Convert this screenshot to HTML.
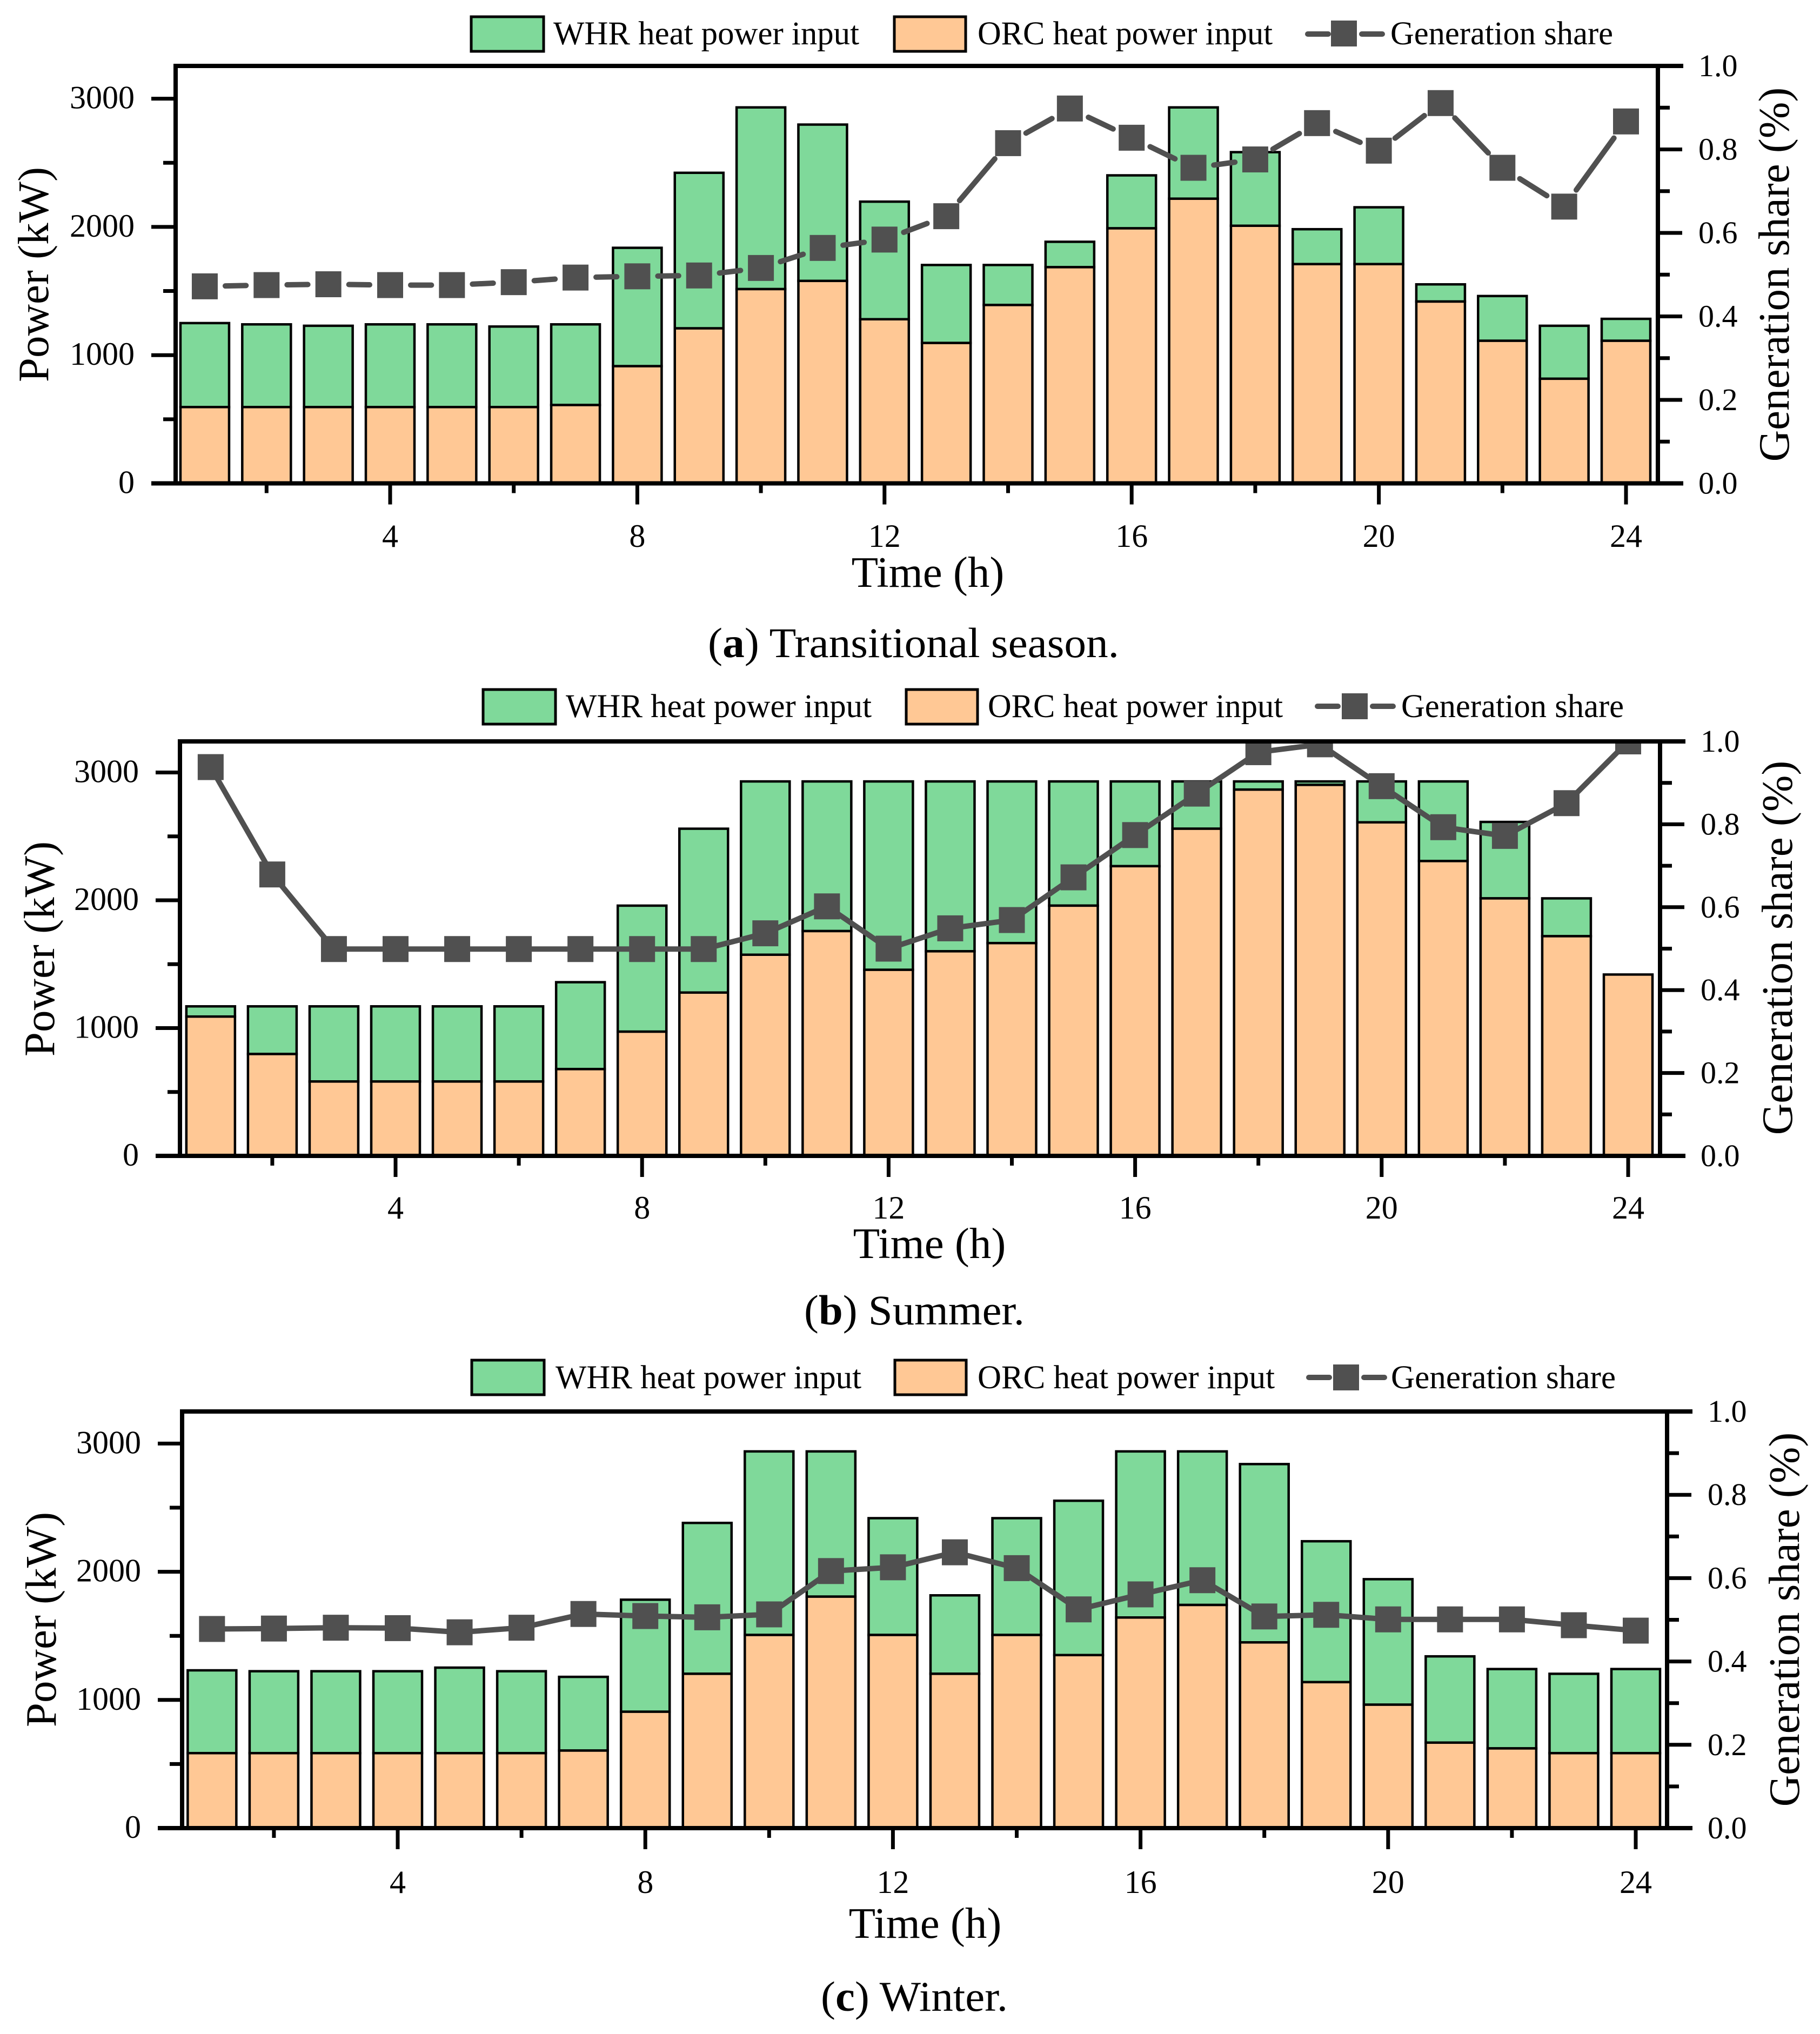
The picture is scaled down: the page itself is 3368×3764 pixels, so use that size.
<!DOCTYPE html>
<html>
<head>
<meta charset="utf-8">
<title>Heat power input and generation share</title>
<style>
html,body{margin:0;padding:0;background:#fff;}
svg{display:block;}
text{font-family:"Liberation Serif",serif;fill:#000;}
.leg{font-size:61px;}
.title{font-size:81px;}
.cap{font-size:78px;}
</style>
</head>
<body>
<svg id="figure" xmlns="http://www.w3.org/2000/svg" width="3368" height="3764" viewBox="0 0 3368 3764">
<rect width="3368" height="3764" fill="#fff"/>
<defs>
<clipPath id="clip-a"><rect x="325" y="122" width="2743" height="773"/></clipPath>
<clipPath id="clip-b"><rect x="333" y="1372" width="2739" height="767"/></clipPath>
<clipPath id="clip-c"><rect x="337" y="2612" width="2748" height="771"/></clipPath>
</defs>
<g id="panel-a"></g>
<g id="panel-b"></g>
<g id="panel-c"></g>

<g>
<rect x="872" y="31" width="134" height="64" fill="#7FD99A" stroke="#000" stroke-width="5"/>
<text class="leg" x="1024" y="82" textLength="566" lengthAdjust="spacingAndGlyphs">WHR heat power input</text>
<rect x="1655" y="31" width="132" height="64" fill="#FFC895" stroke="#000" stroke-width="5"/>
<text class="leg" x="1809" y="82" textLength="546" lengthAdjust="spacingAndGlyphs">ORC heat power input</text>
<line x1="2420" y1="63" x2="2458" y2="63" stroke="#505050" stroke-width="10" stroke-linecap="round"/>
<line x1="2520" y1="63" x2="2558" y2="63" stroke="#505050" stroke-width="10" stroke-linecap="round"/>
<rect x="2463" y="38" width="48" height="48" fill="#505050"/>
<text class="leg" x="2573" y="82" textLength="412" lengthAdjust="spacingAndGlyphs">Generation share</text>
</g>
<text class="title" x="1717" y="1086" text-anchor="middle">Time (h)</text>
<text class="title" transform="translate(89 508) rotate(-90)" text-anchor="middle">Power (kW)</text>
<text class="title" transform="translate(3310 508) rotate(-90)" text-anchor="middle">Generation share (%)</text>
<text class="cap" x="1310" y="1216" textLength="761" lengthAdjust="spacingAndGlyphs">(<tspan font-weight="bold">a</tspan>) Transitional season.</text>

<g>
<rect x="894" y="1276" width="134" height="64" fill="#7FD99A" stroke="#000" stroke-width="5"/>
<text class="leg" x="1047" y="1327" textLength="566" lengthAdjust="spacingAndGlyphs">WHR heat power input</text>
<rect x="1677" y="1276" width="132" height="64" fill="#FFC895" stroke="#000" stroke-width="5"/>
<text class="leg" x="1828" y="1327" textLength="546" lengthAdjust="spacingAndGlyphs">ORC heat power input</text>
<line x1="2438" y1="1307" x2="2476" y2="1307" stroke="#505050" stroke-width="10" stroke-linecap="round"/>
<line x1="2540" y1="1307" x2="2578" y2="1307" stroke="#505050" stroke-width="10" stroke-linecap="round"/>
<rect x="2483" y="1283" width="48" height="48" fill="#505050"/>
<text class="leg" x="2593" y="1327" textLength="412" lengthAdjust="spacingAndGlyphs">Generation share</text>
</g>
<text class="title" x="1720" y="2328" text-anchor="middle">Time (h)</text>
<text class="title" transform="translate(100 1756) rotate(-90)" text-anchor="middle">Power (kW)</text>
<text class="title" transform="translate(3316 1754) rotate(-90)" text-anchor="middle">Generation share (%)</text>
<text class="cap" x="1488" y="2451" textLength="408" lengthAdjust="spacingAndGlyphs">(<tspan font-weight="bold">b</tspan>) Summer.</text>

<g>
<rect x="873" y="2517" width="134" height="64" fill="#7FD99A" stroke="#000" stroke-width="5"/>
<text class="leg" x="1028" y="2569" textLength="566" lengthAdjust="spacingAndGlyphs">WHR heat power input</text>
<rect x="1656" y="2517" width="132" height="64" fill="#FFC895" stroke="#000" stroke-width="5"/>
<text class="leg" x="1809" y="2569" textLength="550" lengthAdjust="spacingAndGlyphs">ORC heat power input</text>
<line x1="2422" y1="2549" x2="2460" y2="2549" stroke="#505050" stroke-width="10" stroke-linecap="round"/>
<line x1="2524" y1="2549" x2="2562" y2="2549" stroke="#505050" stroke-width="10" stroke-linecap="round"/>
<rect x="2467" y="2525" width="48" height="48" fill="#505050"/>
<text class="leg" x="2574" y="2569" textLength="416" lengthAdjust="spacingAndGlyphs">Generation share</text>
</g>
<text class="title" x="1712" y="3586" text-anchor="middle">Time (h)</text>
<text class="title" transform="translate(103 2997) rotate(-90)" text-anchor="middle">Power (kW)</text>
<text class="title" transform="translate(3329 2997) rotate(-90)" text-anchor="middle">Generation share (%)</text>
<text class="cap" x="1519" y="3721" textLength="346" lengthAdjust="spacingAndGlyphs">(<tspan font-weight="bold">c</tspan>) Winter.</text>
</svg>

<script>
const hours = [1,2,3,4,5,6,7,8,9,10,11,12,13,14,15,16,17,18,19,20,21,22,23,24];
const timeMajorTicks = [4,8,12,16,20,24];
const timeMinorTicks = [2,6,10,14,18,22];
const powerMajorTicks = [0,1000,2000,3000];
const powerMinorTicks = [500,1500,2500];
const shareMajorTicks = [0,0.2,0.4,0.6,0.8,1.0];
const shareMinorTicks = [0.1,0.3,0.5,0.7,0.9];

const transitionalOrc = [595,595,595,595,595,595,611,914,1209,1515,1579,1280,1095,1391,1686,1989,2220,2009,1710,1710,1418,1112,816,1112];
const transitionalWhr = [655,645,634,645,645,628,629,923,1213,1417,1219,917,608,312,198,413,712,574,272,443,134,349,413,171];
const transitionalShare = [0.472,0.475,0.477,0.475,0.475,0.482,0.493,0.496,0.498,0.516,0.564,0.584,0.640,0.815,0.898,0.828,0.756,0.776,0.863,0.797,0.911,0.756,0.663,0.867];

const summerOrc = [1090,797,582,582,582,582,679,972,1278,1574,1759,1456,1601,1665,1958,2267,2560,2866,2903,2610,2307,2015,1719,1419];
const summerWhr = [80,373,588,588,588,588,680,986,1282,1356,1171,1474,1329,1265,972,663,370,64,27,320,623,598,296,0];
const summerShare = [0.938,0.679,0.499,0.499,0.499,0.499,0.499,0.499,0.499,0.537,0.602,0.500,0.549,0.569,0.672,0.774,0.874,0.974,0.993,0.892,0.793,0.772,0.851,1.0];

const winterOrc = [585,585,585,585,585,585,605,908,1204,1507,1806,1507,1204,1507,1350,1643,1741,1449,1139,963,667,622,585,585];
const winterWhr = [646,639,639,639,667,639,575,874,1177,1432,1133,911,612,911,1204,1296,1198,1391,1099,979,673,619,619,656];
const winterShare = [0.478,0.479,0.481,0.480,0.470,0.481,0.514,0.509,0.506,0.513,0.617,0.626,0.662,0.624,0.525,0.561,0.595,0.508,0.512,0.501,0.501,0.501,0.487,0.474];

const SVG_NS = 'http://www.w3.org/2000/svg';
function make(parent, tag, attrs, text) {
  const el = document.createElementNS(SVG_NS, tag);
  for (const k in attrs) el.setAttribute(k, attrs[k]);
  if (text !== undefined) el.textContent = text;
  parent.appendChild(el);
  return el;
}

function drawPanel(id, frame, orc, whr, share) {
  const root = document.getElementById('panel-' + id);
  const xOf = h => frame.x4 + (h - 4) * frame.step;
  const yPower = v => frame.bottom - v * frame.unit;
  const yShare = v => frame.bottom - v * (frame.bottom - frame.top);
  const barW = 90;
  const bars = make(root, 'g', {});
  
  

  hours.forEach((h, i) => {
    const x = xOf(h) - barW / 2;
    if (whr[i] > 0) {
      const top = make(bars, 'rect', {x: x, y: yPower(orc[i] + whr[i]), width: barW, height: yPower(orc[i]) - yPower(orc[i] + whr[i]), fill: '#7FD99A', stroke: '#000', 'stroke-width': 4.5});
      
      
    }
    const low = make(bars, 'rect', {x: x, y: yPower(orc[i]), width: barW, height: yPower(0) - yPower(orc[i]), fill: '#FFC895', stroke: '#000', 'stroke-width': 4.5});
    
    
  });

  const series = make(root, 'g', {'clip-path': 'url(#clip-' + id + ')'});
  
  
  for (let i = 0; i < hours.length - 1; i++) {
    let x1 = xOf(hours[i]), y1 = yShare(share[i]), x2 = xOf(hours[i + 1]), y2 = yShare(share[i + 1]);
    const d = Math.hypot(x2 - x1, y2 - y1);
    const g = frame.gap;
    if (d <= 2 * g) continue;
    const ux = (x2 - x1) / d, uy = (y2 - y1) / d;
    const seg = make(series, 'line', {x1: x1 + ux * g, y1: y1 + uy * g, x2: x2 - ux * g, y2: y2 - uy * g, stroke: '#505050', 'stroke-width': 10, 'stroke-linecap': frame.gap ? 'round' : 'butt'});
    
    
  }
  hours.forEach((h, i) => {
    const m = make(series, 'rect', {x: xOf(h) - 24, y: yShare(share[i]) - 24, width: 48, height: 48, fill: '#505050'});
    
    
  });

  const axes = make(root, 'g', {stroke: '#000'});
  
  
  const lines = [
    [frame.left, frame.top - 4, frame.left, frame.bottom, 8],
    [frame.right, frame.top - 4, frame.right, frame.bottom + 3, 8],
    [frame.left - 4, frame.top, frame.right + 47, frame.top, 8],
    [frame.left - 45, frame.bottom, frame.right + 47, frame.bottom, 8]
  ];
  lines.forEach(l => make(axes, 'line', {x1: l[0], y1: l[1], x2: l[2], y2: l[3], 'stroke-width': l[4]}));

  powerMajorTicks.forEach(v => {
    make(axes, 'line', {x1: frame.left - 45, y1: yPower(v), x2: frame.left, y2: yPower(v), 'stroke-width': 7});
    const t = make(root, 'text', {x: frame.left - 76, y: yPower(v) + 18, 'font-size': 60, 'text-anchor': 'end'}, String(v));
    
    
  });
  powerMinorTicks.forEach(v => make(axes, 'line', {x1: frame.left - 23, y1: yPower(v), x2: frame.left, y2: yPower(v), 'stroke-width': 7}));

  shareMajorTicks.forEach(v => {
    make(axes, 'line', {x1: frame.right, y1: yShare(v), x2: frame.right + 45, y2: yShare(v), 'stroke-width': 7});
    const t = make(root, 'text', {x: frame.right + 75, y: yShare(v) + 19, 'font-size': 58}, v.toFixed(1));
    
    
  });
  shareMinorTicks.forEach(v => make(axes, 'line', {x1: frame.right, y1: yShare(v), x2: frame.right + 22, y2: yShare(v), 'stroke-width': 7}));

  timeMajorTicks.forEach(h => {
    make(axes, 'line', {x1: xOf(h), y1: frame.bottom, x2: xOf(h), y2: frame.bottom + 39, 'stroke-width': 7});
    const t = make(root, 'text', {x: xOf(h), y: frame.labelY, 'font-size': 60, 'text-anchor': 'middle'}, String(h));
    
    
  });
  timeMinorTicks.forEach(h => make(axes, 'line', {x1: xOf(h), y1: frame.bottom, x2: xOf(h), y2: frame.bottom + 18, 'stroke-width': 7}));
}

drawPanel('a', {left: 325, right: 3068, top: 122, bottom: 894.5, x4: 722, step: 114.35, unit: 0.2373, labelY: 1012, gap: 38}, transitionalOrc, transitionalWhr, transitionalShare);
drawPanel('b', {left: 333, right: 3072, top: 1372, bottom: 2139, x4: 732, step: 114.05, unit: 0.2365, labelY: 2255, gap: 0}, summerOrc, summerWhr, summerShare);
drawPanel('c', {left: 337, right: 3085, top: 2612, bottom: 3383, x4: 736, step: 114.55, unit: 0.2372, labelY: 3503, gap: 0}, winterOrc, winterWhr, winterShare);
</script>
</body>
</html>
